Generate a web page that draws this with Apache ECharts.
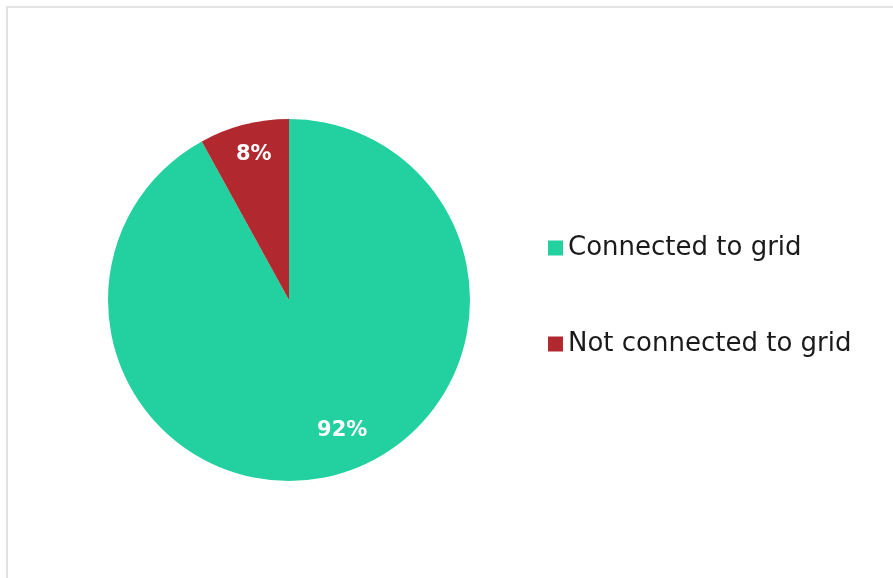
<!DOCTYPE html>
<html>
<head>
<meta charset="utf-8">
<script src="https://cdn.jsdelivr.net/npm/echarts@6/dist/echarts.min.js"></script>
<style>
  body { margin: 0; background: #fff; }
  #main { width: 893px; height: 578px; }
</style>
</head>
<body>
<div id="main"></div>
<script>
// grid connection share
const categories = ['Connected to grid', 'Not connected to grid']
const values = [92, 8]
const colors = ['#23d1a0', '#b1282f']

const chart = echarts.init(document.getElementById('main'), null, { renderer: 'canvas' })

const option = {
  animation: false,
  backgroundColor: '#fff',
  graphic: [
    { type: 'line', shape: { x1: 6, y1: 7, x2: 893, y2: 7 }, style: { stroke: '#e2e2e2', lineWidth: 2 } },
    { type: 'line', shape: { x1: 7, y1: 6, x2: 7, y2: 578 }, style: { stroke: '#e2e2e2', lineWidth: 2 } }
  ],
  legend: {
    orient: 'vertical',
    left: 543,
    top: 228,
    icon: 'rect',
    itemWidth: 15,
    itemHeight: 15,
    itemGap: 66,
    data: categories,
    textStyle: {
      fontFamily: 'DejaVu Sans',
      fontSize: 26,
      lineHeight: 30,
      color: '#1a1a1a'
    }
  },
  series: [{
    type: 'pie',
    center: [289, 300],
    radius: [0, 181],
    startAngle: 90,
    clockwise: true,
    silent: true,
    label: {
      show: true,
      position: 'inside',
      formatter: '{c}%',
      color: '#fff',
      fontFamily: 'DejaVu Sans',
      fontWeight: 'bold',
      fontSize: 21
    },
    labelLine: { show: false },
    labelLayout: function (params) {
      // push labels toward where the original sits
      if (params.dataIndex === 1) return { dx: -12, dy: -55 }
      return { dx: 30, dy: 40 }
    },
    data: categories.map((name, i) => ({
      name: name,
      value: values[i],
      itemStyle: { color: colors[i] }
    }))
  }]
}

chart.setOption(option)
</script>
</body>
</html>
